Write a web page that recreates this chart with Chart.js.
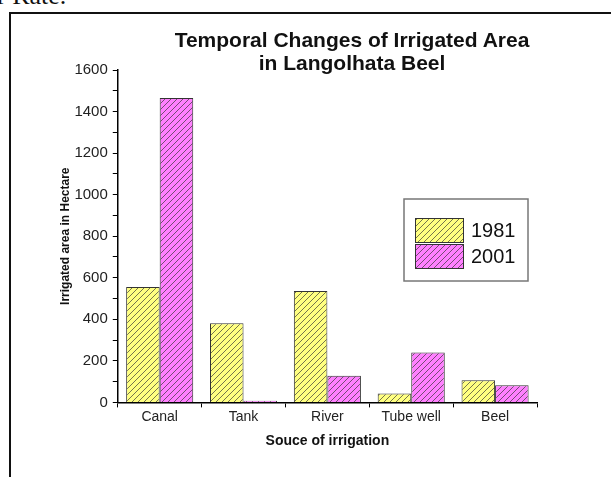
<!DOCTYPE html>
<html>
<head>
    <title>Irrigated area chart</title>
    <meta charset="UTF-8">
    <style>
        body { margin: 0; background: #fff; width: 611px; height: 477px; overflow: hidden; position: relative; }
        #frame { position: absolute; left: 9px; top: 12px; width: 700px; height: 600px; border-left: 2px solid #111; border-top: 2px solid #111; }
        #top-text { position: absolute; left: -3px; top: -17px; font: 26px "Liberation Serif", serif; line-height: 26px; color: #111; white-space: nowrap; }
        #title { position: absolute; left: 102px; top: 28px; width: 500px; text-align: center; font: bold 21px "Liberation Sans", Arial, sans-serif; line-height: 23px; color: #111; }
        canvas { position: absolute; left: 0; top: 0; }
    </style>
</head>
<body>
<div id="top-text">r Rate.</div>
<div id="frame"></div>
<canvas id="myChart" width="611" height="477"></canvas>
<div id="title">Temporal Changes of Irrigated Area<br>in Langolhata Beel</div>
<script src="https://cdn.jsdelivr.net/npm/chart.js@4"></script>
<script>
    // values
    var sources = ['Canal', 'Tank', 'River', 'Tube well', 'Beel'];
    var years = ['1981', '2001'];
    var area1981 = [556, 381, 536, 43, 107];
    var area2001 = [1465, 8, 128, 240, 83];

    var ctx = document.getElementById('myChart').getContext('2d');

    function hatch(color) {
        var c = document.createElement('canvas');
        c.width = 6; c.height = 6;
        var x = c.getContext('2d');
        x.fillStyle = color;
        x.fillRect(0, 0, 6, 6);
        x.strokeStyle = 'rgba(50,50,50,0.85)';
        x.lineWidth = 0.8;
        x.beginPath();
        x.moveTo(0, 6); x.lineTo(6, 0);
        x.moveTo(-1, 1); x.lineTo(1, -1);
        x.moveTo(5, 7); x.lineTo(7, 5);
        x.stroke();
        return ctx.createPattern(c, 'repeat');
    }

    var fills = [hatch('#ffff80'), hatch('#ff80ff')];

    // legend box drawn inside the plot, like the original
    var boxLegend = {
        id: 'boxLegend',
        afterDraw: function (chart) {
            var c = chart.ctx;
            c.save();
            c.strokeStyle = '#777';
            c.lineWidth = 1.5;
            c.strokeRect(404, 199, 124, 82);
            chart.data.datasets.forEach(function (ds, i) {
                var y = 218 + i * 26;
                c.fillStyle = ds.backgroundColor;
                c.fillRect(415, y, 49, 25);
                c.strokeStyle = '#333';
                c.lineWidth = 1;
                c.strokeRect(415.5, y + 0.5, 48, 24);
                c.fillStyle = '#111';
                c.font = '20px "Liberation Sans", Arial, sans-serif';
                c.textBaseline = 'middle';
                c.fillText(ds.label, 471, y + 13);
            });
            c.restore();
        }
    };

    var myChart = new Chart(ctx, {
        type: 'bar',
        data: {
            labels: sources,
            datasets: [
                { label: years[0], data: area1981, backgroundColor: fills[0], borderColor: '#333', borderWidth: 1 },
                { label: years[1], data: area2001, backgroundColor: fills[1], borderColor: '#333', borderWidth: 1 }
            ]
        },
        options: {
            responsive: false,
            animation: false,
            layout: { padding: { left: 58, right: 74, top: 70, bottom: 27 } },
            datasets: { bar: { categoryPercentage: 0.8, barPercentage: 1.0 } },
            plugins: { legend: { display: false }, title: { display: false }, tooltip: { enabled: false } },
            scales: {
                x: {
                    grid: { drawOnChartArea: false, color: '#000', tickLength: 5, offset: true },
                    border: { color: '#000', width: 1.5 },
                    ticks: { color: '#222', padding: 1, font: { family: 'Liberation Sans', size: 14 } },
                    title: { display: true, text: 'Souce of irrigation', color: '#111', padding: { top: 7, bottom: 0 },
                        font: { family: 'Liberation Sans', size: 14, weight: 'bold' } }
                },
                y: {
                    min: 0,
                    max: 1600,
                    grid: { drawOnChartArea: false, color: '#000', tickLength: 5 },
                    border: { color: '#000', width: 1.5 },
                    ticks: {
                        stepSize: 100,
                        autoSkip: false,
                        color: '#222',
                        padding: 5,
                        font: { family: 'Liberation Sans', size: 15 },
                        callback: function (v) { return v % 200 === 0 ? v : ''; }
                    },
                    title: { display: true, text: 'Irrigated area in Hectare', color: '#111', padding: { top: 0, bottom: -3 },
                        font: { family: 'Liberation Sans', size: 12, weight: 'bold' } }
                }
            }
        },
        plugins: [boxLegend]
    });
</script>
</body>
</html>
